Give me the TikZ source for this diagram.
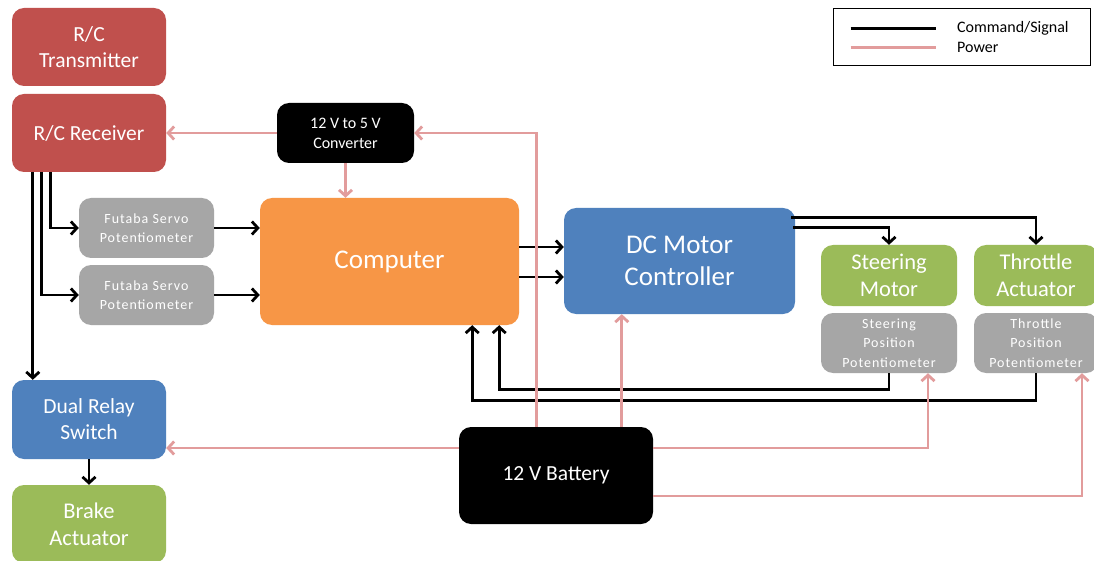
\documentclass[tikz,border=0pt]{standalone}
\usepackage{fontspec}
\setmainfont{Carlito}
\usetikzlibrary{arrows.meta}
\definecolor{cred}{HTML}{C0504D}
\definecolor{corange}{HTML}{F79646}
\definecolor{cblue}{HTML}{4F81BD}
\definecolor{cgreen}{HTML}{9BBB59}
\definecolor{cgray}{HTML}{A6A6A6}
\definecolor{cpink}{RGB}{226,156,156}
\begin{document}
\begin{tikzpicture}[x=1pt,y=-1pt,
  box/.style={rounded corners=12pt, align=center, text=white, inner sep=0pt},
  fbig/.style={font=\fontsize{27}{32}\selectfont},
  fmid/.style={font=\fontsize{21.5}{26}\selectfont},
  fgrn/.style={font=\fontsize{22.5}{27}\selectfont},
  fsml/.style={font=\fontsize{14}{19.5}\selectfont\addfontfeature{LetterSpace=7}},
  fconv/.style={font=\fontsize{16}{20}\selectfont},
  sig/.style={draw=black, line width=2.8pt, -{Straight Barb[length=6pt,width=13pt]}},
  pwr/.style={draw=cpink, line width=2.8pt, -{Straight Barb[length=6pt,width=13pt]}},
  plain/.style={line width=2.8pt}
]
\clip (0,0) rectangle (1094,561);
\fill[white] (0,0) rectangle (1094,561);

% boxes
\node[box, fill=cred, minimum width=154pt, minimum height=78pt, fmid] (tx) at (89,47) {R/C\\Transmitter};
\node[box, fill=cred, minimum width=154pt, minimum height=78pt, fmid] (rx) at (89,133) {R/C Receiver};
\node[box, fill=black, minimum width=137pt, minimum height=60pt, fconv] (conv) at (345.5,133) {12 V to 5 V\\Converter};
\node[box, fill=cgray, minimum width=135pt, minimum height=60pt, fsml] (fut1) at (146.5,228) {Futaba Servo\\Potentiometer};
\node[box, fill=cgray, minimum width=135pt, minimum height=60pt, fsml] (fut2) at (146.5,295) {Futaba Servo\\Potentiometer};
\node[box, fill=corange, minimum width=259pt, minimum height=127pt, fbig] (comp) at (389.5,261.5) {Computer};
\node[box, fill=cblue, minimum width=231pt, minimum height=106pt, fbig] (dc) at (679.5,261) {DC Motor\\Controller};
\node[box, fill=cgreen, minimum width=136pt, minimum height=61pt, fgrn] (steer) at (889,275.5) {Steering\\Motor};
\node[box, fill=cgray, minimum width=136pt, minimum height=60pt, fsml] (spot) at (889,343) {Steering\\Position\\Potentiometer};
\node[box, fill=cgreen, minimum width=124pt, minimum height=61pt, fgrn] (thr) at (1036,275.5) {Throttle\\Actuator};
\node[box, fill=cgray, minimum width=124pt, minimum height=60pt, fsml] (tpot) at (1036,343) {Throttle\\Position\\Potentiometer};
\node[box, fill=cblue, minimum width=154pt, minimum height=79pt, fmid] (relay) at (89,419.5) {Dual Relay\\Switch};
\node[box, fill=cgreen, minimum width=154pt, minimum height=78pt, fgrn] (brake) at (89,524) {Brake\\Actuator};
\node[box, fill=black, minimum width=194pt, minimum height=97pt, fmid] (bat) at (556,475.5) {12 V Battery};

% legend
\node[draw=black, line width=1pt, minimum width=257pt, minimum height=57pt, inner sep=0pt] (leg) at (961.5,37.5) {};
\coordinate (ls1) at ([xshift=18pt,yshift=-20pt]leg.north west);
\coordinate (ls2) at ([xshift=103pt,yshift=-20pt]leg.north west);
\coordinate (lp1) at ([xshift=18pt,yshift=-39pt]leg.north west);
\coordinate (lp2) at ([xshift=103pt,yshift=-39pt]leg.north west);
\draw[plain, black] (ls1) -- (ls2);
\draw[plain, cpink] (lp1) -- (lp2);
\node[anchor=west, inner sep=0pt, font=\fontsize{16}{19}\selectfont] (lsig) at (957,28) {Command/Signal};
\node[anchor=west, inner sep=0pt, font=\fontsize{16}{19}\selectfont] (lpow) at (957,47) {Power};

% signal connectors
\coordinate (r1) at ([xshift=39pt]rx.south west);
\coordinate (r2) at ([xshift=30pt]rx.south west);
\coordinate (r3) at ([xshift=21pt]rx.south west);
\draw[sig] (r1) |- (fut1.west);
\draw[sig] (r2) |- (fut2.west);
\draw[sig] (r3) -- (r3 |- relay.north);
\draw[sig] (fut1.east) -- (fut1.east -| comp.west);
\draw[sig] (fut2.east) -- (fut2.east -| comp.west);
\coordinate (d1) at ([yshift=14pt]dc.west);
\coordinate (d2) at ([yshift=-16pt]dc.west);
\draw[sig] (d1 -| comp.east) -- (d1);
\draw[sig] (d2 -| comp.east) -- (d2);
\coordinate (e1) at ([xshift=-4pt,yshift=-10pt]dc.north east);
\coordinate (e2) at ([xshift=-2pt,yshift=-20pt]dc.north east);
\draw[sig] (e1) -| (thr.north);
\draw[sig] (e2) -| (steer.north);
\coordinate (c1) at ([xshift=-20pt]comp.south east);
\coordinate (c2) at ([xshift=-47pt]comp.south east);
\draw[sig] (spot.south) -- ++(0,16) -| (c1);
\draw[sig] (tpot.south) -- ++(0,27) -| (c2);
\draw[sig] (relay.south) -- (brake.north);

% power connectors
\coordinate (b1) at ([xshift=78pt]bat.north west);
\coordinate (b2) at ([xshift=163pt]bat.north west);
\coordinate (bl) at ([yshift=27.5pt]bat.west);
\coordinate (br1) at ([yshift=27.5pt]bat.east);
\coordinate (br2) at ([yshift=-20.5pt]bat.east);
\coordinate (sp) at ([xshift=39pt]spot.south);
\coordinate (tp) at ([xshift=46pt]tpot.south);
\draw[pwr] (conv.west) -- (conv.west -| rx.east);
\draw[pwr] (conv.south) -- (conv.south |- comp.north);
\draw[pwr] (b1) |- (conv.east);
\draw[pwr] (b2) -- (b2 |- dc.south);
\draw[pwr] (bl) -- (bl -| relay.east);
\draw[pwr] (br1) -| (sp);
\draw[pwr] (br2) -| (tp);
\end{tikzpicture}
\end{document}
